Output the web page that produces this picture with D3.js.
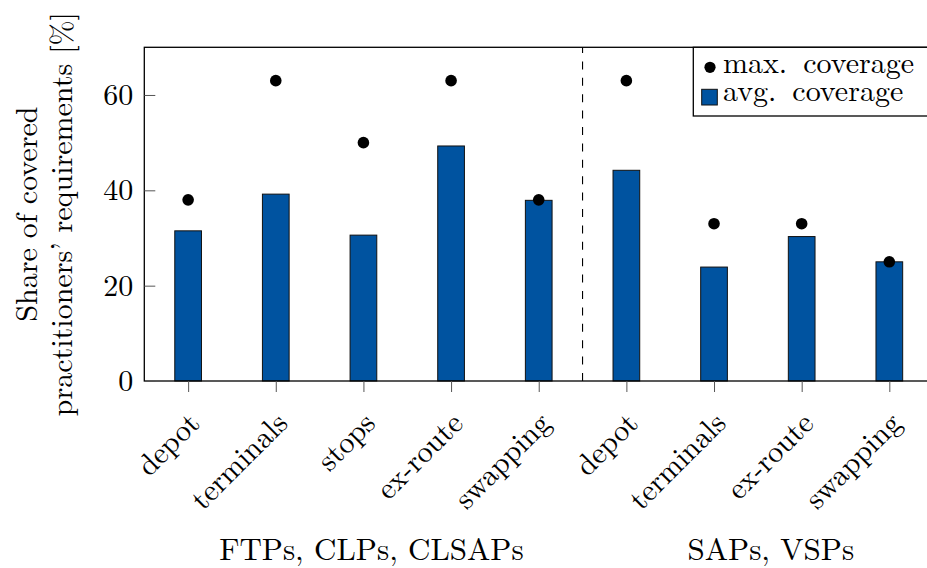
<!DOCTYPE html>
<html>
<head>
<meta charset="utf-8">
<script src="https://cdn.jsdelivr.net/npm/d3@7"></script>
<style>
  html, body { margin: 0; padding: 0; background: #fff; }
  svg { display: block; }
  text { font-family: "Latin Modern Roman", "Liberation Serif", serif; fill: #000; }
</style>
</head>
<body>
<svg id="chart" width="927" height="568"></svg>
<script>
// ---- data ----
const categories = ["depot", "terminals", "stops", "ex-route", "swapping",
                    "depot", "terminals", "ex-route", "swapping"];
const groups = ["FTPs, CLPs, CLSAPs", "FTPs, CLPs, CLSAPs", "FTPs, CLPs, CLSAPs", "FTPs, CLPs, CLSAPs", "FTPs, CLPs, CLSAPs",
                "SAPs, VSPs", "SAPs, VSPs", "SAPs, VSPs", "SAPs, VSPs"];
const groupNames = ["FTPs, CLPs, CLSAPs", "SAPs, VSPs"];
const avgCoverage = [31.5, 39.2, 30.6, 49.3, 37.9, 44.2, 23.9, 30.3, 25.0];
const maxCoverage = [38, 63, 50, 63, 38, 63, 33, 33, 25];
const yTicks = [0, 20, 40, 60];
const legendLabels = ["max. coverage", "avg. coverage"];
const yLabelLines = ["Share of covered", "practitioners\u2019 requirements [%]"];

// ---- layout ----
const svg = d3.select("#chart");
const plotLeft = 144.3, plotTop = 47.3, plotBottom = 381, step = 87.65;
const plotRight = plotLeft + step * categories.length;
const blue = "#0053a0";
const fs = 30;
const fam = "'Latin Modern Roman', 'Liberation Serif', serif";

const keys = categories.map((c, i) => i);
const x = d3.scalePoint().domain(keys).range([plotLeft, plotRight]).padding(0.5);
const y = d3.scaleLinear().domain([0, 70]).range([plotBottom, plotTop]);
const barW = 26.7;

// bars
svg.append("g").selectAll("rect").data(keys).join("rect")
  .attr("x", i => x(i) - barW / 2)
  .attr("y", i => y(avgCoverage[i]))
  .attr("width", barW)
  .attr("height", i => y(0) - y(avgCoverage[i]))
  .attr("fill", blue)
  .attr("stroke", "#111")
  .attr("stroke-width", 1);

// separator dashed line between groups
const sepX = (x(4) + x(5)) / 2;
svg.append("line")
  .attr("x1", sepX).attr("x2", sepX)
  .attr("y1", y(0)).attr("y2", y(70))
  .attr("stroke", "#000").attr("stroke-width", 1.1)
  .attr("stroke-dasharray", "8,8.4");

// max dots
svg.append("g").selectAll("circle").data(keys).join("circle")
  .attr("cx", i => x(i))
  .attr("cy", i => y(maxCoverage[i]))
  .attr("r", 5.8)
  .attr("fill", "#000");

// axes box
svg.append("rect")
  .attr("x", plotLeft).attr("y", plotTop)
  .attr("width", plotRight - plotLeft).attr("height", plotBottom - plotTop)
  .attr("fill", "none").attr("stroke", "#000").attr("stroke-width", 1.3);

// y ticks (inward) and labels
const yAxis = d3.axisLeft(y).tickValues(yTicks).tickSize(-11).tickFormat(d3.format("d"));
const gy = svg.append("g").attr("transform", `translate(${plotLeft},0)`).call(yAxis);
gy.attr("font-family", null);
gy.select(".domain").remove();
gy.selectAll(".tick line").attr("stroke", "#555").attr("stroke-width", 1);
gy.selectAll(".tick text")
  .attr("font-family", fam)
  .attr("font-size", fs)
  .attr("fill", "#000")
  .attr("dy", "0.32em")
  .attr("x", -11);

// x ticks (outward) and rotated labels
const xAxis = d3.axisBottom(x).tickSize(11).tickFormat(i => categories[i]);
const gx = svg.append("g").attr("transform", `translate(0,${plotBottom})`).call(xAxis);
gx.attr("font-family", null);
gx.select(".domain").remove();
gx.selectAll(".tick line").attr("stroke", "#555").attr("stroke-width", 1);
gx.selectAll(".tick text")
  .attr("font-family", fam)
  .attr("font-size", fs)
  .attr("fill", "#000")
  .attr("text-anchor", "end")
  .attr("y", 0).attr("dy", 0)
  .attr("transform", "translate(13,44) rotate(-45)");

// group labels
groupNames.forEach((g, gi) => {
  const idx = keys.filter(i => groups[i] === g);
  const cx = (x(idx[0]) + x(idx[idx.length - 1])) / 2 + (gi === 0 ? 8 : 13);
  svg.append("text")
    .attr("x", cx).attr("y", 560)
    .attr("text-anchor", "middle")
    .attr("font-size", 31)
    .text(g);
});

// y axis label (two lines)
const yMid = (plotTop + plotBottom) / 2;
[37, 72].forEach((bx, li) => {
  svg.append("text")
    .attr("transform", `translate(${bx},${yMid}) rotate(-90)`)
    .attr("text-anchor", "middle")
    .attr("font-size", fs)
    .text(yLabelLines[li]);
});

// legend
const lg = svg.append("g");
lg.append("rect")
  .attr("x", 693.3).attr("y", plotTop)
  .attr("width", plotRight - 693.3).attr("height", 116 - plotTop)
  .attr("fill", "#fff").attr("stroke", "#000").attr("stroke-width", 1.3);
lg.append("circle").attr("cx", 710).attr("cy", 67.3).attr("r", 5.6).attr("fill", "#000");
lg.append("rect").attr("x", 701.7).attr("y", 89.3).attr("width", 15.6).attr("height", 15.7)
  .attr("fill", blue).attr("stroke", "#111").attr("stroke-width", 1);
lg.append("text").attr("x", 723).attr("y", 73).attr("font-size", fs)
  .style("word-spacing", "6px").text(legendLabels[0]);
lg.append("text").attr("x", 723).attr("y", 101).attr("font-size", fs)
  .style("word-spacing", "6px").text(legendLabels[1]);
</script>
</body>
</html>
